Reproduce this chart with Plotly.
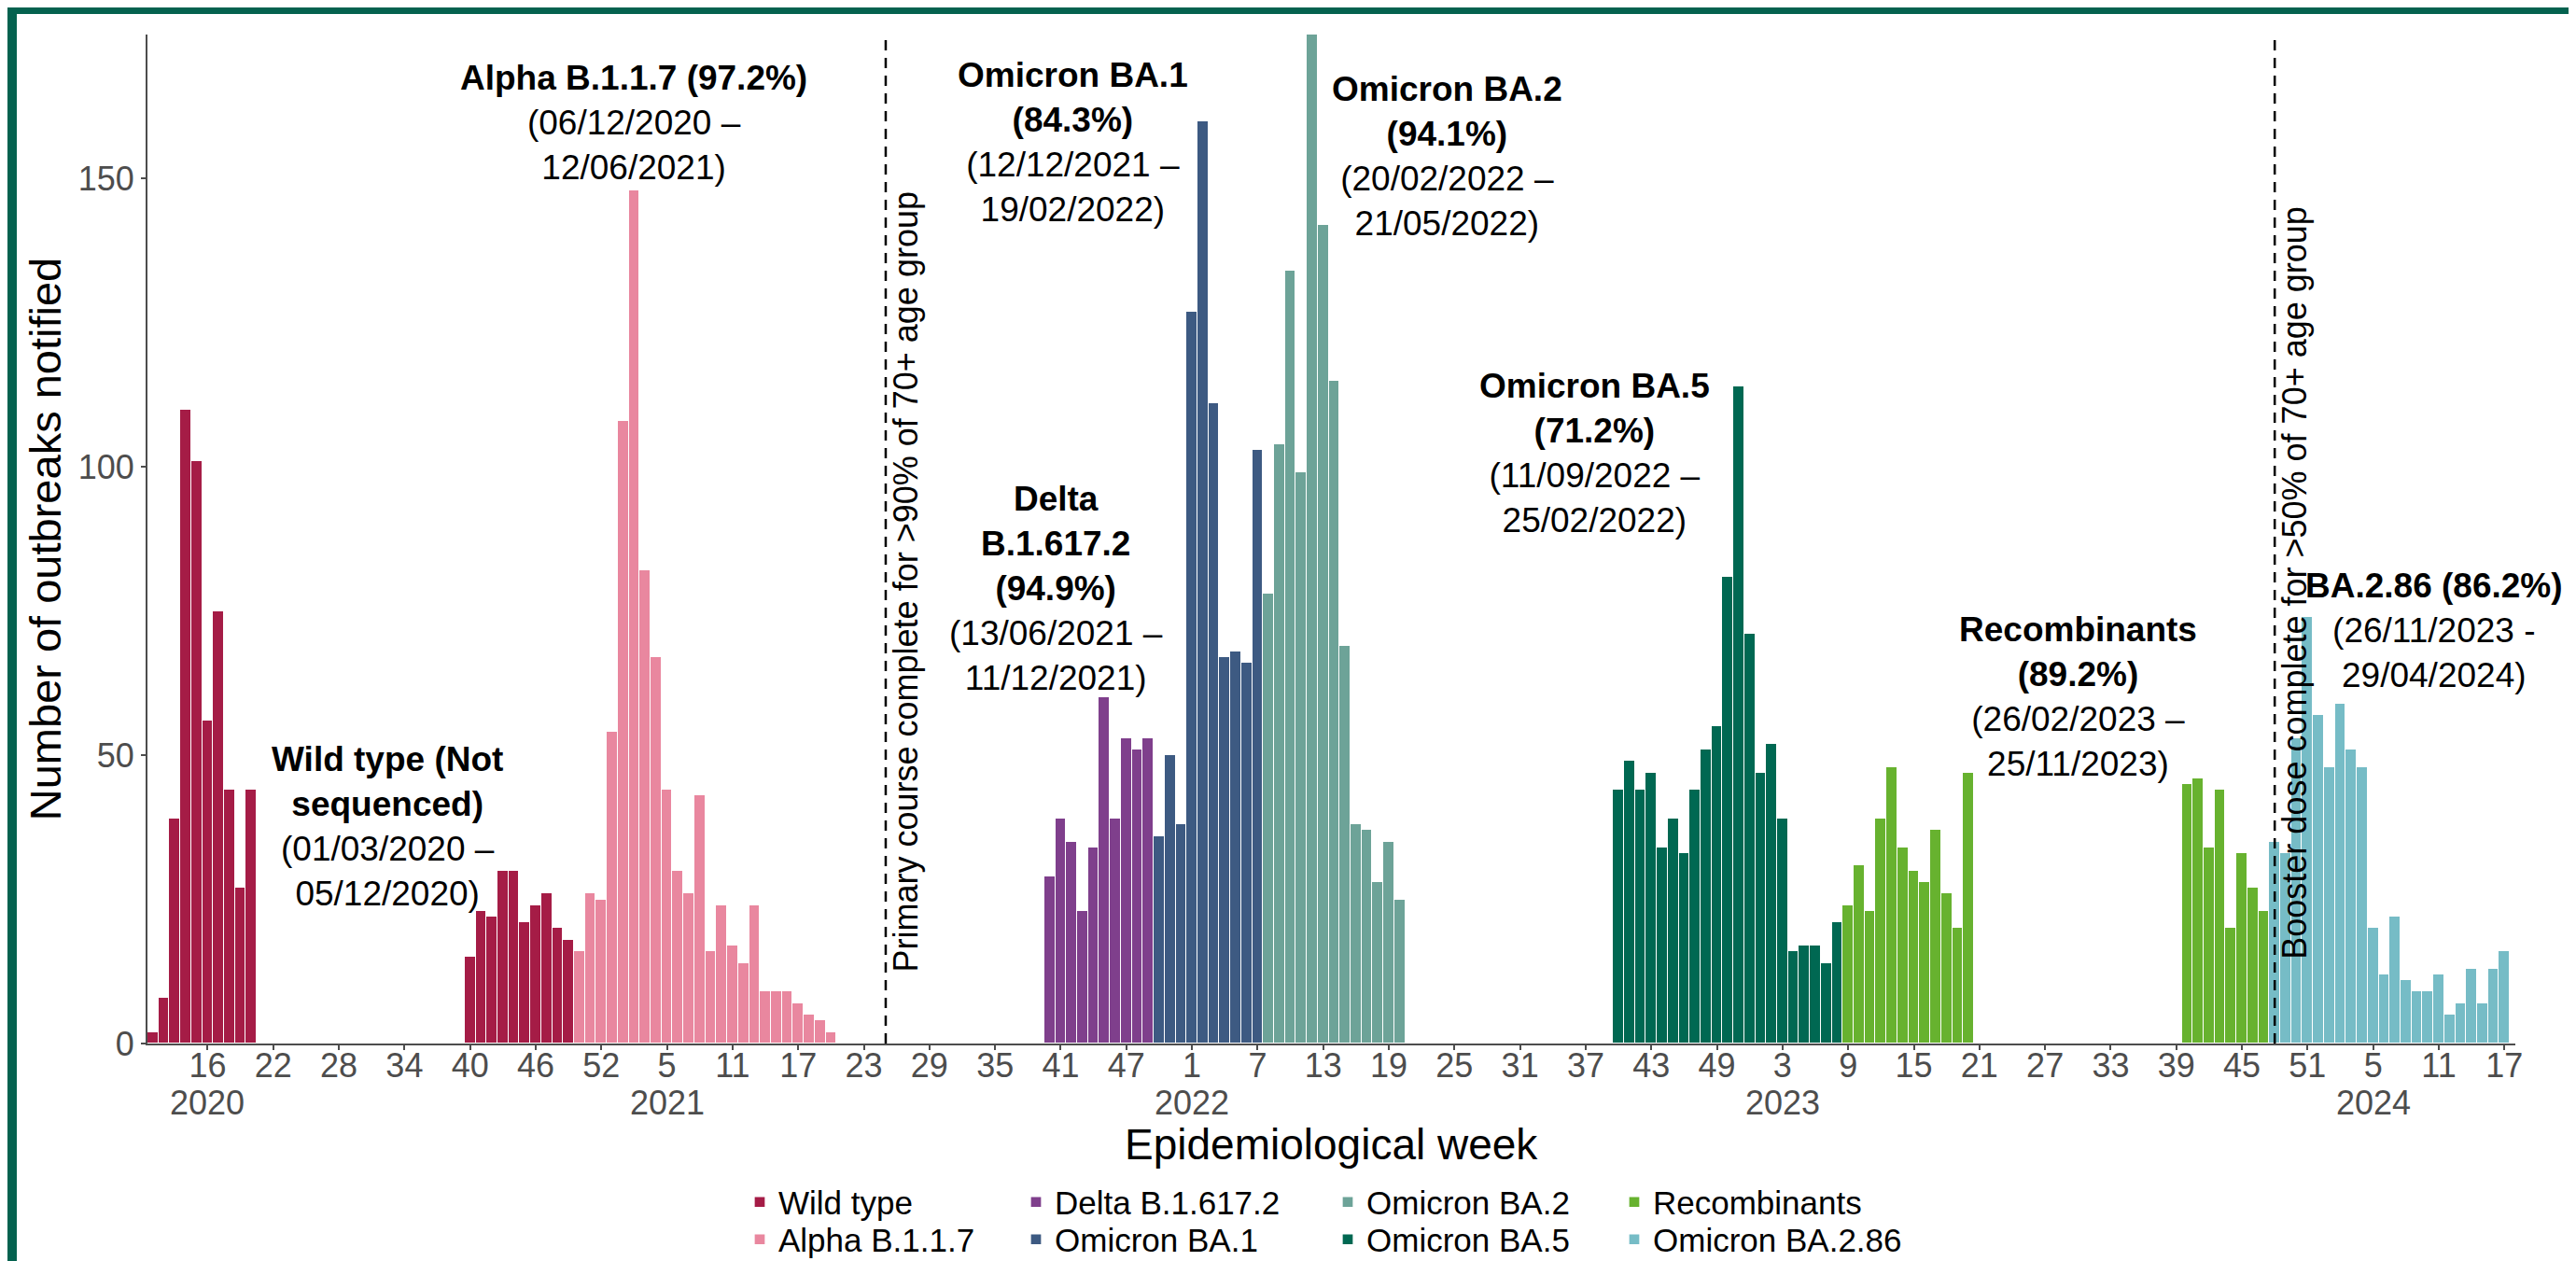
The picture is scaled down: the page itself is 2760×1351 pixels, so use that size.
import plotly.graph_objects as go

# ---------------- data ----------------
WEEKS_IN_YEAR = {2020: 53, 2021: 52, 2022: 52, 2023: 52, 2024: 52}
FIRST_WEEK = (2020, 11)

variant_names = ["Wild type", "Alpha B.1.1.7", "Delta B.1.617.2", "Omicron BA.1",
                 "Omicron BA.2", "Omicron BA.5", "Recombinants", "Omicron BA.2.86"]
variant_colors = ["#A51C46", "#E9879F", "#7F3F8C", "#3D5A82",
                  "#6DA398", "#006852", "#67B22F", "#76BCC6"]

wild_type_blocks = [((2020, 11), [2, 8, 39, 110, 101, 56, 75, 44, 27, 44]),
                    ((2020, 40), [15, 23, 22, 30, 30, 21, 24, 26, 20, 18])]
alpha_blocks = [((2020, 50), [16, 26, 25, 54, 108, 148, 82, 67, 44, 30, 26, 43,
                              16, 24, 17, 14, 24, 9, 9, 9, 7, 5, 4, 2])]
delta_blocks = [((2021, 40), [29, 39, 35, 23, 34, 60, 39, 53, 51, 53])]
ba1_blocks = [((2021, 50), [36, 50, 38, 127, 160, 111, 67, 68, 66, 103])]
ba2_blocks = [((2022, 8), [78, 104, 134, 99, 175, 142, 115, 69, 38, 37, 28, 35, 25])]
ba5_blocks = [((2022, 40), [44, 49, 44, 47, 34, 39, 33, 44, 51, 55, 81, 114, 71,
                            47, 52, 39, 16, 17, 17, 14, 21])]
recombinant_blocks = [((2023, 9), [24, 31, 23, 39, 48, 34, 30, 28, 37, 26, 20, 47]),
                      ((2023, 40), [45, 46, 34, 44, 20, 33, 27, 23])]
ba286_blocks = [((2023, 48), [35, 33, 53, 74, 57, 48, 59, 51, 48, 20, 12, 22, 11,
                              9, 9, 12, 5, 7, 13, 7, 13, 16])]

variant_blocks = [wild_type_blocks, alpha_blocks, delta_blocks, ba1_blocks,
                  ba2_blocks, ba5_blocks, recombinant_blocks, ba286_blocks]

# legend grid (column, row) of each variant, as in the reference key
legend_cells = [(0, 0), (0, 1), (1, 0), (1, 1), (2, 0), (2, 1), (3, 0), (3, 1)]

tick_weeks = [(2020, 16), (2020, 22), (2020, 28), (2020, 34), (2020, 40), (2020, 46), (2020, 52),
              (2021, 5), (2021, 11), (2021, 17), (2021, 23), (2021, 29), (2021, 35), (2021, 41), (2021, 47),
              (2022, 1), (2022, 7), (2022, 13), (2022, 19), (2022, 25), (2022, 31), (2022, 37), (2022, 43), (2022, 49),
              (2023, 3), (2023, 9), (2023, 15), (2023, 21), (2023, 27), (2023, 33), (2023, 39), (2023, 45), (2023, 51),
              (2024, 5), (2024, 11), (2024, 17)]

y_ticks = [0, 50, 100, 150]
y_max = 175

vaccine_lines = [((2021, 25), "Primary course complete for >90% of 70+ age group"),
                 ((2023, 48), "Booster dose complete for >50% of 70+ age group")]

variant_labels = [
    ("Wild type (Not|sequenced)", "(01/03/2020 –|05/12/2020)", 21.4, 37.7),
    ("Alpha B.1.1.7 (97.2%)", "(06/12/2020 –|12/06/2021)", 44.0, 159.7),
    ("Omicron BA.1|(84.3%)", "(12/12/2021 –|19/02/2022)", 84.1, 156.3),
    ("Delta|B.1.617.2|(94.9%)", "(13/06/2021 –|11/12/2021)", 82.6, 79.0),
    ("Omicron BA.2|(94.1%)", "(20/02/2022 –|21/05/2022)", 118.3, 153.9),
    ("Omicron BA.5|(71.2%)", "(11/09/2022 –|25/02/2022)", 131.8, 102.4),
    ("Recombinants|(89.2%)", "(26/02/2023 –|25/11/2023)", 176.0, 60.2),
    ("BA.2.86 (86.2%)", "(26/11/2023 -|29/04/2024)", 208.6, 71.7),
]


def week_index(year, week):
    idx = 0
    for y in range(FIRST_WEEK[0], year):
        idx += WEEKS_IN_YEAR[y]
    return idx + week - FIRST_WEEK[1]


# ---------------- layout constants ----------------
W, H = 2760, 1351
ML, MR, MT, MB = 150, 73, 29, 241
PW = W - ML - MR
PH = H - MT - MB
FONT = "Liberation Sans, Arial, Helvetica, sans-serif"
AXIS_GREY = "#4D4D4D"
FRAME = "#04624F"
LEGEND_COL_X = [786, 1082, 1416, 1723]   # px, left edge of each key column
LEGEND_ROW_Y = [1280, 1320]              # px, centre of each key row


def px_x(px):
    return (px - ML) / PW


def px_y(py):
    return (H - MB - py) / PH


fig = go.Figure()

legend_layouts = {}
for k, (name, color, blocks, (col, row)) in enumerate(zip(variant_names, variant_colors,
                                                          variant_blocks, legend_cells)):
    xs, ys = [], []
    for (yr, wk), counts in blocks:
        start = week_index(yr, wk)
        for i, c in enumerate(counts):
            xs.append(start + i)
            ys.append(c)
    legend_id = "legend" if k == 0 else f"legend{k + 1}"
    fig.add_trace(go.Bar(
        x=xs, y=ys, name=name, width=1,
        marker=dict(color=color, line=dict(color="white", width=1.3)),
        legend=legend_id,
        hovertemplate=name + ": %{y}<extra></extra>",
    ))
    legend_layouts[legend_id] = dict(
        x=px_x(LEGEND_COL_X[col]), y=px_y(LEGEND_ROW_Y[row]),
        xanchor="left", yanchor="middle", orientation="h",
        font=dict(family=FONT, size=35, color="black"),
        bgcolor="rgba(0,0,0,0)", itemclick=False, itemdoubleclick=False,
    )

tickvals = [week_index(y, w) for y, w in tick_weeks]
ticktext = [str(w) for y, w in tick_weeks]

last_index = week_index(2024, 17)

fig.update_layout(
    width=W, height=H,
    margin=dict(l=ML, r=MR, t=MT, b=MB, autoexpand=False),
    paper_bgcolor="white", plot_bgcolor="white",
    barmode="stack", bargap=0,
    font=dict(family=FONT, color="black"),
    showlegend=True,
    xaxis=dict(
        range=[-0.5, last_index + 1.0],
        tickmode="array", tickvals=tickvals, ticktext=ticktext,
        showline=True, linecolor=AXIS_GREY, linewidth=2,
        ticks="outside", ticklen=5, tickwidth=2, tickcolor=AXIS_GREY,
        tickfont=dict(family=FONT, size=36, color=AXIS_GREY),
        ticklabelstandoff=-14,
        showgrid=False, zeroline=False,
    ),
    yaxis=dict(
        range=[0, y_max],
        tickmode="array", tickvals=y_ticks,
        showline=True, linecolor=AXIS_GREY, linewidth=2,
        ticks="outside", ticklen=5, tickwidth=2, tickcolor=AXIS_GREY,
        tickfont=dict(family=FONT, size=36, color=AXIS_GREY),
        showgrid=False, zeroline=False,
        title=dict(text="Number of outbreaks notified", font=dict(family=FONT, size=47, color="black"), standoff=3),
    ),
    **legend_layouts,
)

# x-axis title
fig.add_annotation(x=0.5, y=px_y(1218), xref="paper", yref="paper", text="Epidemiological week",
                   showarrow=False, xanchor="center", yanchor="middle",
                   font=dict(family=FONT, size=46, color="black"))

# year labels under the first tick of each year
seen_years = set()
for y, w in tick_weeks:
    if y in seen_years:
        continue
    seen_years.add(y)
    fig.add_annotation(x=week_index(y, w), y=px_y(1173), xref="x", yref="paper", text=str(y),
                       showarrow=False, xanchor="center", yanchor="middle",
                       font=dict(family=FONT, size=36, color=AXIS_GREY))

# vaccine milestone lines + rotated labels
for (yr, wk), label in vaccine_lines:
    xi = week_index(yr, wk)
    fig.add_shape(type="line", xref="x", yref="paper", x0=xi, x1=xi, y0=0, y1=1,
                  line=dict(color="black", width=2.5, dash="11px,8px"))
    fig.add_annotation(x=xi + 1.85, y=80, xref="x", yref="y", text=label, textangle=-90,
                       showarrow=False, xanchor="center", yanchor="middle",
                       font=dict(family=FONT, size=36, color="black"))

# variant period labels
for bold, normal, xi, yv in variant_labels:
    lines = [f"<b>{ln}</b>" for ln in bold.split("|")] + normal.split("|")
    fig.add_annotation(x=xi, y=yv, xref="x", yref="y", text="<br>".join(lines),
                       showarrow=False, xanchor="center", yanchor="middle", align="center",
                       font=dict(family=FONT, size=37, color="black"))

# slide frame (top and left edges)
fig.add_shape(type="rect", xref="paper", yref="paper", x0=px_x(0), x1=px_x(10), y0=px_y(H), y1=px_y(0),
              fillcolor=FRAME, line=dict(width=0), layer="above")
fig.add_shape(type="rect", xref="paper", yref="paper", x0=px_x(0), x1=px_x(W), y0=px_y(7), y1=px_y(0),
              fillcolor=FRAME, line=dict(width=0), layer="above")

fig.write_html("out.html")
